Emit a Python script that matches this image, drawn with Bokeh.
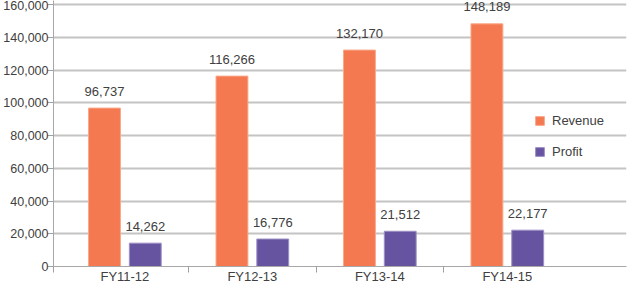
from bokeh.plotting import figure
from bokeh.models import ColumnDataSource, FixedTicker, Range1d, Legend, LegendItem, NumeralTickFormatter
from bokeh.core.properties import value
from bokeh.embed import file_html
from bokeh.resources import INLINE

categories = ["FY11-12", "FY12-13", "FY13-14", "FY14-15"]
revenue = [96737, 116266, 132170, 148189]
profit = [14262, 16776, 21512, 22177]
y_ticks = [0, 20000, 40000, 60000, 80000, 100000, 120000, 140000, 160000]

REV_COLOR = "#F47850"
PRO_COLOR = "#6754A0"
TEXT_COLOR = "#404040"
FONT = "Liberation Sans"

centers = [i + 0.5 for i in range(len(categories))]
off = 0.16
bw = 0.25
x0 = -0.06

src = ColumnDataSource(dict(
    xr=[c - off for c in centers],
    xp=[c + off for c in centers],
    rev=revenue,
    pro=profit,
    rev_lbl=[f"{v:,}" for v in revenue],
    pro_lbl=[f"{v:,}" for v in profit],
))

p = figure(width=627, height=286, output_backend="svg", toolbar_location=None,
           x_range=Range1d(x0, 4.435), y_range=Range1d(0, 162450),
           min_border_left=52, min_border_right=1, min_border_top=0, min_border_bottom=20)
p.outline_line_color = None
p.background_fill_color = "white"
p.border_fill_color = "white"

# grid
p.xgrid.grid_line_color = None
p.ygrid.grid_line_color = "#c4c4c4"
p.ygrid.grid_line_width = 2
p.ygrid.ticker = FixedTicker(ticks=y_ticks)

r1 = p.vbar(x="xr", top="rev", width=bw, source=src, fill_color=REV_COLOR,
            line_color="#f9a888", line_width=1)
r2 = p.vbar(x="xp", top="pro", width=bw, source=src, fill_color=PRO_COLOR,
            line_color="#9d90c4", line_width=1)

lab_kw = dict(text_align="center", text_baseline="middle", y_offset=-17,
              text_font=value(FONT), text_font_size="13px", text_color=TEXT_COLOR)
p.text(x="xr", y="rev", text="rev_lbl", source=src, **lab_kw)
p.text(x="xp", y="pro", text="pro_lbl", source=src, **lab_kw)

# x axis
p.xaxis.ticker = FixedTicker(ticks=centers, minor_ticks=[x0, 1, 2, 3])
p.xaxis.major_label_overrides = {c: n for c, n in zip(centers, categories)}
p.xaxis.major_tick_line_color = None
p.xaxis.major_tick_out = 0
p.xaxis.major_tick_in = 0
p.xaxis.minor_tick_line_color = "#a0a0a0"
p.xaxis.minor_tick_out = 6
p.xaxis.minor_tick_in = 0
p.xaxis.major_label_standoff = -4
p.xaxis.axis_line_color = "#a8a8a8"
p.xaxis.major_label_text_font_size = "13px"

# y axis
p.yaxis.ticker = FixedTicker(ticks=y_ticks)
p.yaxis.formatter = NumeralTickFormatter(format="0,0")
p.yaxis.major_tick_out = 6
p.yaxis.major_tick_in = 0
p.yaxis.minor_tick_line_color = None
p.yaxis.major_tick_line_color = "#a0a0a0"
p.yaxis.axis_line_color = "#a8a8a8"
p.yaxis.major_label_standoff = -1
p.yaxis.major_label_text_font_size = "12.5px"

for ax in (p.xaxis, p.yaxis):
    ax.major_label_text_font = FONT
    ax.major_label_text_color = TEXT_COLOR
    ax.major_label_text_font_style = "normal"

legend = Legend(items=[LegendItem(label="Revenue", renderers=[r1]),
                       LegendItem(label="Profit", renderers=[r2])],
                location=(481, 107), orientation="vertical")
legend.border_line_color = None
legend.background_fill_alpha = 0
legend.padding = 0
legend.margin = 0
legend.glyph_width = 11
legend.glyph_height = 11
legend.label_height = 11
legend.spacing = 16
legend.label_standoff = 7
legend.label_text_font = FONT
legend.label_text_font_size = "13px"
legend.label_text_color = TEXT_COLOR
p.add_layout(legend, "center")

open("out.html", "w").write(file_html(p, INLINE))
